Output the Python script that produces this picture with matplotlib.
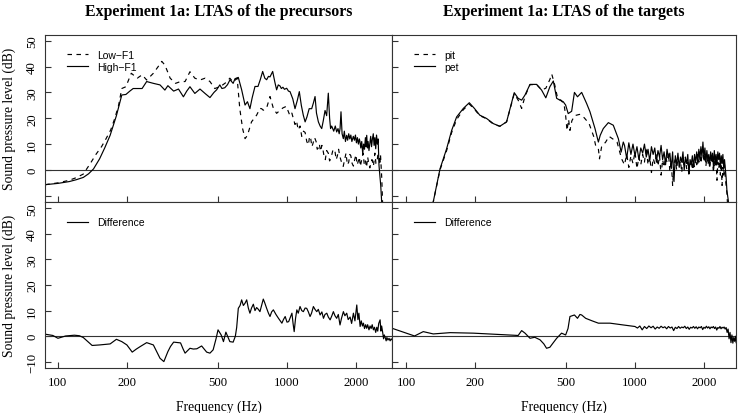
import numpy as np
import matplotlib
matplotlib.use("Agg")
import matplotlib.pyplot as plt

# ---------------- data ----------------
TICK_FREQS = [100, 200, 500, 1000, 2000]
TICK_LABELS = ["100", "200", "500", "1000", "2000"]
Y_TICKS = [-10, 0, 10, 20, 30, 40, 50]

HIGH_F1_FREQ = [88, 100, 112, 120, 129, 136, 143, 152, 160, 169, 180, 190, 198, 206, 213, 233, 244, 261, 279, 293,
                302, 320, 336, 353, 365, 377, 396, 417, 440, 461, 480, 493, 509, 520, 535, 550, 564, 582, 593, 613,
                634, 656, 672, 689, 705, 725, 747, 765, 783, 800, 815, 830, 843, 866, 885, 901, 916, 932, 945, 960,
                975, 997, 1015, 1031, 1060, 1084, 1110, 1132, 1155, 1178, 1200, 1222, 1250, 1282, 1305, 1326, 1345,
                1371, 1395, 1418, 1440, 1466, 1490, 1515, 1535, 1550, 1567, 1600, 1625, 1648, 1670, 1690, 1705, 1721,
                1740, 1762, 1780, 1800, 1822, 1840, 1860, 1880, 1900, 1920, 1948, 1970, 1990, 2010, 2030, 2050, 2070,
                2084, 2100, 2120, 2141, 2160, 2180, 2200, 2215, 2229, 2245, 2260, 2280, 2303, 2320, 2340, 2360, 2381,
                2400, 2420, 2440, 2460, 2480, 2500, 2522, 2566, 2620]
HIGH_F1_DB = [-5.7, -5.2, -4.5, -3.8, -2.9, -1.5, 0.4, 4.3, 8.5, 13.4, 21, 29, 29.2, 30.5, 31.5, 31.5, 34.2, 33.5, 32.9,
              30.9, 32.6, 30.5, 31.3, 28.3, 30.5, 32.2, 29.6, 31.3, 29.5, 28, 30, 31, 32.9, 31.5, 31.8, 33, 34.9, 33.5,
              35.3, 35.8, 31, 25.1, 26.4, 23.7, 28, 32.3, 32.3, 35, 38.1, 35.5, 34.9, 36.2, 36, 38.1, 34, 31, 32.9,
              32.5, 31.5, 32, 31.2, 31.6, 30.5, 30.3, 27.5, 23.7, 27, 30.3, 25, 21.2, 18.6, 20.5, 23.7, 23.7, 26, 28.4,
              22, 18.6, 17, 16, 19, 23, 21, 29.7, 20, 16, 17, 15, 17, 14.7, 16, 14, 16, 22.5, 14, 12.1, 15, 11, 13.4,
              11.5, 14, 12, 13.5, 11, 13, 11.5, 13.5, 10.5, 12.5, 10, 12, 10.8, 8.5, 11, 6.3, 10, 8, 12.5, 9, 13.4, 8.5,
              11, 7.5, 10.8, 13, 9, 12, 14, 9.5, 12.5, 8.2, 13.5, 10, 12, 1.7, -6, -20]

LOW_F1_FREQ = [88, 100, 112, 120, 129, 138, 147, 155, 162, 170, 177, 184, 190, 198, 209, 222, 233, 244, 261, 274, 284,
               293, 309, 326, 343, 359, 377, 396, 417, 439, 461, 484, 509, 526, 545, 563, 582, 606, 622, 640, 656, 672,
               700, 737, 762, 775, 788, 815, 843, 871, 901, 930, 960, 993, 1030, 1050, 1084, 1100, 1120, 1140, 1160,
               1180, 1200, 1220, 1240, 1255, 1270, 1285, 1300, 1320, 1340, 1355, 1370, 1385, 1400, 1420, 1435, 1450,
               1470, 1490, 1515, 1535, 1560, 1590, 1620, 1640, 1660, 1680, 1700, 1730, 1760, 1785, 1810, 1835, 1860,
               1880, 1900, 1925, 1950, 1975, 2000, 2025, 2050, 2070, 2090, 2120, 2150, 2175, 2200, 2225, 2250, 2275,
               2300, 2325, 2350, 2385, 2420, 2445, 2470, 2495, 2520, 2545, 2560, 2594, 2630]
LOW_F1_DB = [-5.7, -5, -4, -3, -1.6, 2.3, 6.2, 9, 12, 15.5, 19.9, 25, 31.5, 32.2, 37.4, 35.5, 36.8, 34.8, 37.4, 40, 42,
             40.6, 35.5, 33.5, 34.2, 34.2, 38, 35.5, 34.8, 35.5, 34.2, 31.5, 32.2, 33, 34, 35.5, 34, 35.5, 23.8, 16,
             12.1, 13.4, 18.6, 21.2, 23.8, 23.7, 23.1, 24, 28.4, 24, 21.9, 23, 24, 24.6, 21, 22, 17.6, 19, 15.5, 17,
             13, 15, 14.5, 11, 9.7, 13, 12, 9, 10.4, 12.5, 11, 8, 8.5, 10, 7.2, 9.5, 8, 5.5, 4, 7.5, 6.5, 3.5, 5, 8,
             7.2, 4, 5.5, 8, 5.3, 3, 1.4, 4, 6.5, 2, 3, 6, 5.5, 2.5, 1.5, 4, 5.9, 2, 3.5, 5, 1.4, 4, 6.5, 2, 3.5, 1, 5,
             2.5, 0.8, 3, 4, 1.5, 6.5, 2.5, 3, 6, 5.5, 2, 6, -3.5, -20]

DIFF_PREC_FREQ = [88, 95, 100, 108, 118, 124, 129, 141, 152, 169, 180, 190, 200, 211, 220, 229, 244, 261, 270, 279, 290,
                  302, 310, 320, 343, 352, 359, 377, 390, 404, 424, 446, 461, 476, 490, 500, 516, 528, 541, 563, 582,
                  595, 603, 613, 624, 634, 645, 656, 667, 678, 689, 700, 713, 725, 737, 750, 762, 775, 788, 800, 815,
                  830, 843, 857, 872, 895, 918, 935, 950, 965, 982, 1000, 1017, 1035, 1051, 1063, 1075, 1090, 1104,
                  1120, 1140, 1160, 1179, 1200, 1219, 1240, 1261, 1280, 1304, 1325, 1349, 1370, 1395, 1420, 1443, 1465,
                  1492, 1515, 1543, 1570, 1594, 1620, 1648, 1675, 1704, 1730, 1763, 1790, 1823, 1850, 1886, 1915, 1950,
                  1980, 2017, 2040, 2060, 2086, 2110, 2135, 2157, 2180, 2205, 2228, 2250, 2280, 2305, 2330, 2355, 2384,
                  2410, 2440, 2466, 2490, 2515, 2550, 2570, 2590, 2620, 2640, 2660, 2690, 2710, 2730, 2760, 2790, 2820,
                  2850, 2874]
DIFF_PREC_DB = [0.8, 0.3, -0.8, 0.1, 0.4, 0.2, -0.5, -3.6, -3.4, -3, -1.2, -2.1, -3.4, -6.2, -5, -4, -2.5, -3.4, -6,
                -8.6, -9.9, -6, -4, -2.3, -2.6, -5, -6.6, -4.7, -5, -4.9, -3.8, -6.2, -6.6, -5.3, -1, 2.5, 0.5, -2.1,
                1.6, -2.1, -2.3, 0, 3.4, 10.9, 12, 14.2, 12, 12.9, 14.2, 11, 9, 11, 12.5, 10, 11.2, 10.5, 9.6, 12, 14.5,
                13, 10.9, 9, 7.7, 9.5, 10.3, 8.5, 7, 6, 5.1, 6.5, 7.7, 5.5, 5.7, 7.5, 9, 5, 1.8, 7, 10.3, 9, 11.6, 10,
                9.6, 11, 10.9, 9.5, 7.7, 9, 11.6, 10.5, 9.6, 10.5, 8.3, 9.5, 7, 8.5, 9, 7.5, 6.4, 8, 9.6, 8, 7, 8.5,
                4.4, 7, 9.6, 8, 9, 6.5, 7.5, 5, 9, 6, 12.2, 6.5, 9, 3.8, 6, 4, 5.1, 3, 4.5, 3.1, 4.5, 2.5, 4, 3, 4.5,
                2.5, 3.5, 1.5, 3.5, 2, 5, 6.4, 2, 4, 1.2, -1, 0.5, -0.8, -1.8, -0.5, -1.5, -0.8, -1.8, -1, -1.4]

PET_FREQ = [125, 131.6, 140.8, 150.5, 158.3, 166.4, 178, 189, 199, 210, 225, 241, 257, 275, 297, 309, 320, 331, 348,
            372, 391, 408, 425, 440, 455, 470, 486, 498, 511, 529, 544, 561, 585, 615, 636, 669, 692, 705, 727, 765,
            804, 846, 870, 889,
            900, 920, 940, 960, 980, 1000, 1020, 1040, 1060, 1080, 1100, 1120, 1140, 1160, 1180, 1200, 1220, 1240,
            1260, 1280, 1300, 1320, 1340, 1360, 1380, 1400, 1420, 1440, 1460, 1480, 1500, 1520, 1540, 1560, 1580,
            1600, 1620, 1640, 1660, 1680, 1700, 1720, 1740, 1760, 1780, 1800, 1820, 1840, 1860, 1880, 1900, 1920,
            1940, 1960, 1980, 2000, 2020, 2040, 2060, 2080, 2100, 2120, 2140, 2160, 2180, 2200, 2220, 2240, 2260,
            2280, 2300, 2320, 2340, 2360, 2380, 2400, 2420, 2440, 2460, 2480, 2500, 2520, 2557, 2580]
PET_DB = [-20, -12.3, 0.4, 8.2, 15.3, 20.5, 23.8, 26, 23.8, 21.2, 19.9, 17.9, 16.9, 18.6, 29.9, 27.7, 27, 29, 33.1,
          33.1, 30.9, 27.9, 32.2, 34.4, 27.7, 27, 26.4, 25.1, 21.8, 22.7, 30, 28.3, 30, 25.7, 22.5, 16, 10.8, 13.4,
          16, 18.3, 17.3, 12.1, 6.9, 10.8,
          9.5, 4.5, 10.5, 6, 10, 5.5, 9, 4, 8.5, 6.5, 10, 5, 8, 3.5, 9, 6, 8.5, 3, 7.5, 5, 9.5, 4, 7, 2, 8, 4.5,
          6.5, 0.5, 7, -4.5, 5.5, 2, 6.5, 1, 5, 3, 7, 0, 4.5, 2.5, 6, -1.5, 4, 2, 5.5, 1, 6, 3, 7, 2.5, 8, 4, 9, 5,
          10.8, 4.5, 8.5, 3, 7.5, 4, 6, 2, 7, 3.5, 6.5, 1.5, 7.5, 3, 6, 2, 7, 4, 6.5, 1, 5.5, 2.5, 6, 0.5, 4, 0.4,
          -3, -8, -12, -20]

PIT_FREQ = [125, 131.6, 140.8, 150.5, 158.3, 166.4, 178, 189, 199, 210, 225, 241, 257, 275, 297, 309, 320, 331, 348,
            372, 391, 408, 425, 433, 446, 460, 475, 490, 498, 505, 513, 520, 530, 545, 573, 600, 630, 660, 675, 692,
            700, 715, 745, 770, 800, 835, 874,
            900, 920, 940, 960, 980, 1000, 1020, 1040, 1060, 1080, 1100, 1120, 1140, 1160, 1180, 1200, 1220, 1240,
            1260, 1280, 1300, 1320, 1340, 1360, 1380, 1400, 1420, 1440, 1460, 1480, 1500, 1520, 1540, 1560, 1580,
            1600, 1620, 1640, 1660, 1680, 1700, 1720, 1740, 1760, 1780, 1800, 1820, 1840, 1860, 1880, 1900, 1920,
            1940, 1960, 1980, 2000, 2020, 2040, 2060, 2080, 2100, 2120, 2140, 2160, 2180, 2200, 2220, 2240, 2260,
            2280, 2300, 2320, 2340, 2360, 2380, 2400, 2420, 2440, 2460, 2480, 2500, 2520, 2560]
PIT_DB = [-20, -12.3, 0, 7.5, 14.5, 19.5, 23.3, 25.5, 23.5, 21, 19.8, 17.7, 16.9, 18.6, 29.5, 27, 23.8, 28.5, 33,
          33, 31, 31.6, 35, 37.1, 33, 27.5, 27, 25.5, 21, 15.3, 19.5, 15.3, 19, 21, 21.5, 20.2, 18, 13, 9, 8.2, 4.3,
          9, 10.8, 13, 12, 10.8, 4.3,
          2, 6, 1, 5.5, 2.5, 7, 0.5, 5, 2, 6, 3, 8.8, 2, 5, -1, 4.5, 2.5, 6, 1.5, 5.5, -2, 4, 1, 5, 3, 6.5, -0.5,
          3.5, -6, 2.5, 4, 0, 5, 1.5, 3.5, -1, 4.5, 2, 5, 0.5, 3, -2.5, 2, 4, 0, 3.5, 1, 4.5, 2, 6, 3, 7, 2.5, 5.5,
          8, 3, 6, 1.5, 5, 2, 4.5, 0.5, 5, 2.5, 4, -1, 3.5, 1, 4.5, -4, 3, 0.5, 3.5, -2, 2.5, -6, 1, -2, 2, -3, -6,
          -9, -20]

DIFF_TARG_FREQ = [87, 109, 119, 131.6, 156, 197, 309, 320, 331, 348, 365, 385, 400, 411, 425, 440, 455, 478, 498, 510,
                  520, 544, 561, 575, 585, 609, 650, 692, 778, 889,
                  1000, 1025, 1050, 1075, 1100, 1125, 1150, 1175, 1200, 1225, 1250, 1275, 1300, 1325, 1350, 1375,
                  1400, 1425, 1450, 1475, 1500, 1525, 1550, 1575, 1600, 1625, 1650, 1675, 1700, 1725, 1750, 1775,
                  1800, 1825, 1850, 1875, 1900, 1925, 1950, 1975, 2000, 2025, 2050, 2075, 2100, 2125, 2150, 2175,
                  2200, 2225, 2250, 2275, 2300, 2325, 2350, 2375, 2400, 2425, 2450, 2475, 2500, 2525, 2550, 2575,
                  2600, 2625, 2650, 2675, 2700, 2725, 2750, 2765]
DIFF_TARG_DB = [3.1, 0.1, 1.8, 0.9, 1.4, 1.2, 0.3, 2.2, 1.2, -0.8, -0.4, -1.4, -3, -4.7, -4.3, -2.5, -0.8, 1.2, 0.5,
                3, 7.7, 8.3, 7, 8.5, 8.3, 7, 6, 5.1, 5.1, 4.4,
                3.8, 3.2, 4, 2.5, 3.8, 3, 4, 3.3, 3.9, 2.8, 3.6, 3.1, 3.9, 3.3, 3.7, 2.9, 3.8, 3.2, 3.6, 2.2, 3.5,
                3, 3.8, 3.1, 3.6, 3.3, 3.9, 3, 3.6, 2.7, 3.5, 3.2, 3.8, 3.1, 3.7, 2.9, 3.6, 3.3, 3.8, 2.6, 3.5, 3.1,
                3.9, 3.2, 3.7, 2.9, 3.6, 3.3, 3.8, 3, 3.6, 2.4, 3.4, 3.1, 3.8, 2.9, 3.5, 3.2, 3.6, 2.8, 3.4, 1.5, 2.8,
                -1, 1.5, -2.5, 0.5, -2.7, -0.5, -2, 0, -2.5]

# ---------------- layout ----------------
W, H = 741, 414
fig = plt.figure(figsize=(W / 100, H / 100), dpi=100)

SERIF = ["Liberation Serif", "DejaVu Serif"]
SANS = ["Liberation Sans", "DejaVu Sans"]
EDGE = "#333333"


def add_ax(x0, y0, x1, y1):
    return fig.add_axes([x0 / W, 1 - y1 / H, (x1 - x0) / W, (y1 - y0) / H])


ax_tl = add_ax(45, 35.5, 392, 203)
ax_tr = add_ax(392, 35.5, 736, 203)
ax_bl = add_ax(45, 203, 392, 369)
ax_br = add_ax(392, 203, 736, 369)

XLIM_L = (87.8, 2874)
XLIM_R = (86.9, 2761)
YLIM = (-12.4, 52.4)


def style(ax, xlim, left_labels, bottom_labels, top_panel):
    ax.set_xscale("log")
    ax.set_xlim(*xlim)
    ax.set_ylim(*YLIM)
    ax.set_xticks(TICK_FREQS)
    ax.xaxis.set_minor_locator(matplotlib.ticker.NullLocator())
    ax.set_yticks(Y_TICKS)
    if bottom_labels:
        ax.set_xticklabels(TICK_LABELS, fontfamily=SERIF, fontsize=9.2)
    else:
        ax.set_xticklabels([])
    if left_labels:
        labs = [("−%d" % -v) if v < 0 else str(v) for v in Y_TICKS]
        if top_panel:
            labs[0] = ""
        ax.set_yticklabels(labs, fontfamily=SERIF, fontsize=9.2, rotation=90, va="center")
    else:
        ax.set_yticklabels([])
    ax.tick_params(axis="both", direction="in", length=4, width=0.8, color=EDGE)
    ax.tick_params(axis="x", pad=6)
    ax.tick_params(axis="y", pad=5)
    for sp in ax.spines.values():
        sp.set_color(EDGE)
        sp.set_linewidth(0.8)
    ax.axhline(0, color=EDGE, lw=0.8, zorder=1)


style(ax_tl, XLIM_L, True, False, True)
style(ax_tr, XLIM_R, False, False, True)
style(ax_bl, XLIM_L, True, True, False)
style(ax_br, XLIM_R, False, True, False)

LW = 0.85
DASH = (3.8, 3.8)

ax_tl.plot(LOW_F1_FREQ, LOW_F1_DB, color="black", lw=LW, dashes=DASH, label="Low−F1")
ax_tl.plot(HIGH_F1_FREQ, HIGH_F1_DB, color="black", lw=LW, label="High−F1")
ax_tr.plot(PIT_FREQ, PIT_DB, color="black", lw=LW, dashes=DASH, label="pit")
ax_tr.plot(PET_FREQ, PET_DB, color="black", lw=LW, label="pet")
ax_bl.plot(DIFF_PREC_FREQ, DIFF_PREC_DB, color="black", lw=LW, label="Difference")
ax_br.plot(DIFF_TARG_FREQ, DIFF_TARG_DB, color="black", lw=LW, label="Difference")

for ax in (ax_tl, ax_tr, ax_bl, ax_br):
    w = ax.get_position().width * W
    h = ax.get_position().height * H
    ax.legend(loc="upper left", bbox_to_anchor=(22 / w, 1 - 15.5 / h), frameon=False,
              borderpad=0, borderaxespad=0, handlelength=2.0, handletextpad=0.9,
              labelspacing=0.2, prop={"family": SANS, "size": 7.5})

# titles and axis labels
fig.text(218.5 / W, 1 - 12 / H, "Experiment 1a: LTAS of the precursors", ha="center", va="center",
         fontfamily=SERIF, fontweight="bold", fontsize=11.4)
fig.text(564 / W, 1 - 12 / H, "Experiment 1a: LTAS of the targets", ha="center", va="center",
         fontfamily=SERIF, fontweight="bold", fontsize=11.4)
for yc in (119, 286):
    fig.text(9 / W, 1 - yc / H, "Sound pressure level (dB)", ha="center", va="center", rotation=90,
             fontfamily=SERIF, fontsize=9.8)
for xc in (218.5, 564):
    fig.text(xc / W, 1 - 407 / H, "Frequency (Hz)", ha="center", va="center",
             fontfamily=SERIF, fontsize=9.8)

fig.savefig("out.png", dpi=100)
